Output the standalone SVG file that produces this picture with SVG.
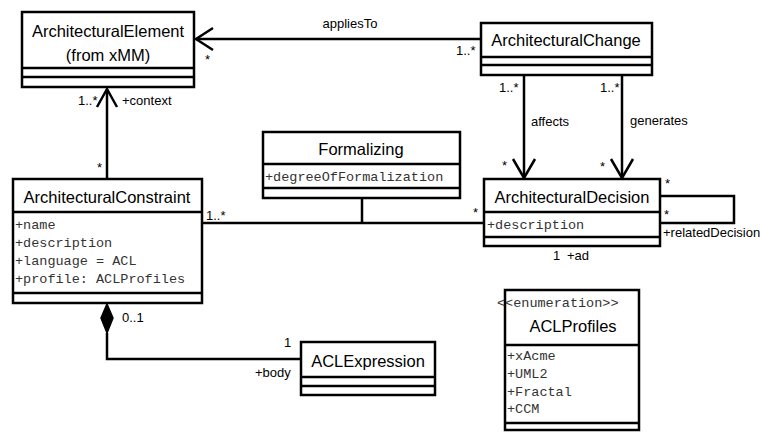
<svg xmlns="http://www.w3.org/2000/svg" width="763" height="432" viewBox="0 0 763 432">
<style>
.box{fill:#fff;stroke:#000;stroke-width:2.5}
.sep{stroke:#000;stroke-width:2.5}
.name{font-family:"Liberation Sans",Arial,sans-serif;font-size:16.5px;text-anchor:middle;fill:#000}
.attr{font-family:"Liberation Mono","Courier New",monospace;font-size:13.5px;fill:#333}
.lbl{font-family:"Liberation Sans",Arial,sans-serif;font-size:13px;fill:#000}
.mid{text-anchor:middle}
.conn{fill:none;stroke:#000;stroke-width:2.5}
</style>
<rect width="763" height="432" fill="#fff"/>
<g id="connectors">
  <line class="conn" x1="481" y1="39" x2="196" y2="39"/>
  <polyline class="conn" points="213,28 196,39 213,50"/>
  <line class="conn" x1="107" y1="179" x2="107" y2="89"/>
  <polyline class="conn" points="97,107 107,89 117,107"/>
  <line class="conn" x1="524" y1="75" x2="524" y2="178"/>
  <polyline class="conn" points="513,159 524,178 535,159"/>
  <line class="conn" x1="622" y1="75" x2="622" y2="178"/>
  <polyline class="conn" points="611,159 622,178 633,159"/>
  <line class="conn" x1="202" y1="223" x2="484" y2="223"/>
  <line class="conn" x1="362" y1="198" x2="362" y2="223"/>
  <polyline class="conn" points="660,196 734,196 734,223 660,223"/>
  <polygon points="107,304 113,318 107,333 101,318" fill="#000" stroke="#000" stroke-width="1.5"/>
  <polyline class="conn" points="107,333 107,359 301,359"/>
  <text class="lbl mid" x="350" y="28">appliesTo</text>
  <text class="lbl" x="205" y="64">*</text>
  <text class="lbl" x="456" y="55">1..*</text>
  <text class="lbl" x="78" y="105">1..*</text>
  <text class="lbl" x="122" y="105">+context</text>
  <text class="lbl" x="97" y="172">*</text>
  <text class="lbl" x="499" y="92">1..*</text>
  <text class="lbl" x="600" y="92">1..*</text>
  <text class="lbl" x="531" y="126">affects</text>
  <text class="lbl" x="630" y="125">generates</text>
  <text class="lbl" x="502" y="170">*</text>
  <text class="lbl" x="600" y="171">*</text>
  <text class="lbl" x="206" y="220">1..*</text>
  <text class="lbl" x="473" y="217">*</text>
  <text class="lbl" x="665" y="188">*</text>
  <text class="lbl" x="664" y="219">*</text>
  <text class="lbl" x="663" y="237">+relatedDecision</text>
  <text class="lbl" x="553" y="260">1</text>
  <text class="lbl" x="567" y="260">+ad</text>
  <text class="lbl" x="122" y="322">0..1</text>
  <text class="lbl" x="284" y="347">1</text>
  <text class="lbl" x="255" y="377">+body</text>
</g>
<g id="ArchitecturalElement">
  <rect class="box" x="22" y="12" width="172" height="75"/>
  <line class="sep" x1="22" y1="68" x2="194" y2="68"/>
  <line class="sep" x1="22" y1="77" x2="194" y2="77"/>
  <text class="name" x="108" y="37">ArchitecturalElement</text>
  <text class="name" x="108" y="61">(from xMM)</text>
</g>
<g id="ArchitecturalChange">
  <rect class="box" x="481" y="23" width="171" height="52"/>
  <line class="sep" x1="481" y1="57" x2="652" y2="57"/>
  <line class="sep" x1="481" y1="65" x2="652" y2="65"/>
  <text class="name" x="566" y="46">ArchitecturalChange</text>
</g>
<g id="Formalizing">
  <rect class="box" x="263" y="132" width="197" height="66"/>
  <line class="sep" x1="263" y1="164" x2="460" y2="164"/>
  <line class="sep" x1="263" y1="188" x2="460" y2="188"/>
  <text class="name" x="361" y="155">Formalizing</text>
  <text class="attr" x="265" y="181">+degreeOfFormalization</text>
</g>
<g id="ArchitecturalConstraint">
  <rect class="box" x="13" y="179" width="189" height="124"/>
  <line class="sep" x1="13" y1="212" x2="202" y2="212"/>
  <line class="sep" x1="13" y1="293" x2="202" y2="293"/>
  <text class="name" x="107" y="203">ArchitecturalConstraint</text>
  <text class="attr" x="15" y="229">+name</text>
  <text class="attr" x="15" y="247">+description</text>
  <text class="attr" x="15" y="265">+language = ACL</text>
  <text class="attr" x="15" y="283">+profile: ACLProfiles</text>
</g>
<g id="ArchitecturalDecision">
  <rect class="box" x="484" y="179" width="176" height="67"/>
  <line class="sep" x1="484" y1="212" x2="660" y2="212"/>
  <line class="sep" x1="484" y1="237" x2="660" y2="237"/>
  <text class="name" x="572" y="203">ArchitecturalDecision</text>
  <text class="attr" x="487" y="229">+description</text>
</g>
<g id="ACLExpression">
  <rect class="box" x="301" y="342" width="134" height="53"/>
  <line class="sep" x1="301" y1="377" x2="435" y2="377"/>
  <line class="sep" x1="301" y1="386" x2="435" y2="386"/>
  <text class="name" x="368" y="367">ACLExpression</text>
</g>
<g id="ACLProfiles">
  <rect class="box" x="505" y="290" width="134" height="140"/>
  <line class="sep" x1="505" y1="345" x2="639" y2="345"/>
  <line class="sep" x1="505" y1="423" x2="639" y2="423"/>
  <text class="attr" x="497" y="307">&lt;&lt;enumeration&gt;&gt;</text>
  <text class="name" x="573" y="332">ACLProfiles</text>
  <text class="attr" x="507" y="360">+xAcme</text>
  <text class="attr" x="507" y="378">+UML2</text>
  <text class="attr" x="507" y="396">+Fractal</text>
  <text class="attr" x="507" y="413">+CCM</text>
</g>
</svg>
